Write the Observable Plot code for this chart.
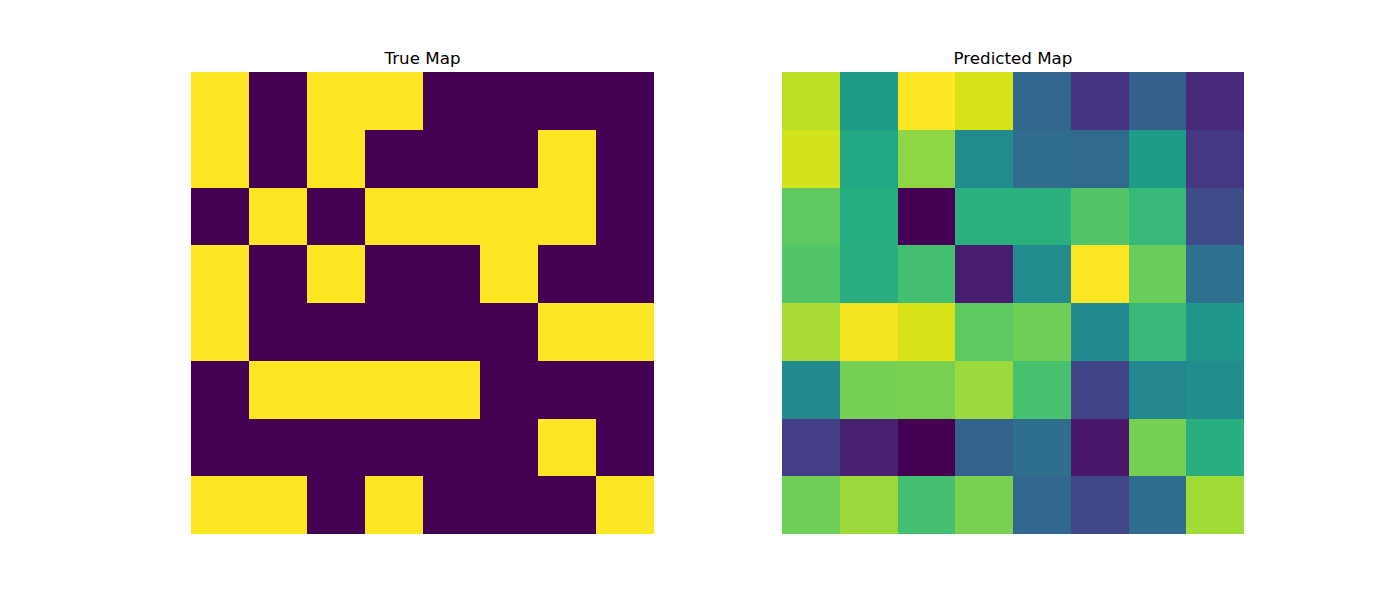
<!DOCTYPE html>
<html>
<head>
<meta charset="utf-8">
<script src="https://cdn.jsdelivr.net/npm/d3@7"></script>
<script src="https://cdn.jsdelivr.net/npm/@observablehq/plot@0.6"></script>
<style>
  html, body { margin: 0; padding: 0; background: #fff; }
  #root { position: relative; width: 1400px; height: 600px; font-family: "DejaVu Sans", sans-serif; }
  .title { position: absolute; font-size: 16.7px; color: #000; transform: translateX(-50%); white-space: nowrap; line-height: 1; }
  .panel { position: absolute; }
</style>
</head>
<body>
<div id="root"></div>
<script>
const titles = ["True Map", "Predicted Map"];

const trueMap = [
  [1,0,1,1,0,0,0,0],
  [1,0,1,0,0,0,1,0],
  [0,1,0,1,1,1,1,0],
  [1,0,1,0,0,1,0,0],
  [1,0,0,0,0,0,1,1],
  [0,1,1,1,1,0,0,0],
  [0,0,0,0,0,0,1,0],
  [1,1,0,1,0,0,0,1]
];

const predictedMap = [
  [0.90,0.55,1.00,0.94,0.33,0.15,0.30,0.12],
  [0.93,0.60,0.83,0.48,0.35,0.34,0.55,0.16],
  [0.75,0.62,0.00,0.64,0.64,0.73,0.67,0.23],
  [0.73,0.63,0.70,0.08,0.48,1.00,0.77,0.37],
  [0.87,0.98,0.94,0.75,0.78,0.47,0.67,0.53],
  [0.47,0.79,0.80,0.85,0.71,0.20,0.46,0.49],
  [0.18,0.09,0.00,0.31,0.36,0.06,0.79,0.63],
  [0.78,0.85,0.70,0.80,0.33,0.21,0.35,0.86]
];

function toCells(grid) {
  const out = [];
  grid.forEach((row, r) => row.forEach((v, c) => out.push({row: r, col: c, value: v})));
  return out;
}

const root = document.getElementById("root");

function addPanel(grid, title, left, top, w, h) {
  const data = toCells(grid);
  const ext = d3.extent(data, d => d.value);
  const chart = Plot.plot({
    width: w,
    height: h,
    margin: 0,
    x: {type: "band", domain: d3.range(8), padding: 0, round: false, axis: null},
    y: {type: "band", domain: d3.range(8), padding: 0, round: false, axis: null},
    color: {scheme: "viridis", domain: ext},
    marks: [
      Plot.cell(data, {x: "col", y: "row", fill: "value", inset: 0, shapeRendering: "crispEdges"})
    ]
  });
  const wrap = document.createElement("div");
  wrap.className = "panel";
  wrap.style.left = left + "px";
  wrap.style.top = top + "px";
  wrap.appendChild(chart);
  root.appendChild(wrap);

  const t = document.createElement("div");
  t.className = "title";
  t.textContent = title;
  t.style.left = (left + w / 2) + "px";
  t.style.top = (top - 22) + "px";
  root.appendChild(t);
}

addPanel(trueMap, titles[0], 191, 72, 463, 462);
addPanel(predictedMap, titles[1], 782, 72, 462, 462);
</script>
</body>
</html>
